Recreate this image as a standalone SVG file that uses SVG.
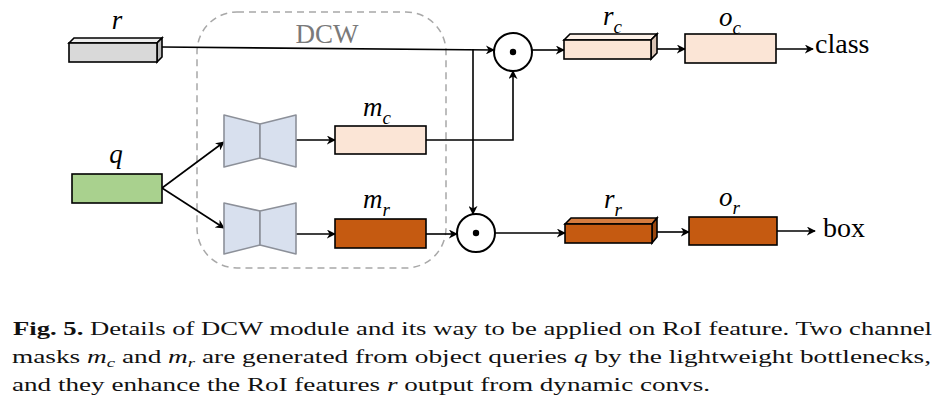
<svg xmlns="http://www.w3.org/2000/svg" width="945" height="408" viewBox="0 0 945 408">
<style>
.ln{fill:none;stroke:#000;stroke-width:1.6}
.bx{stroke:#000;stroke-width:1.6}
.bn{fill:#d8e0ee;stroke:#8c9099;stroke-width:1.6;stroke-linejoin:round}
.gray{fill:#d9d9d9}.grayT{fill:#ededed}.grayS{fill:#bdbdbd}
.pe{fill:#fbe5d6}.peT{fill:#fdf1e8}.peS{fill:#d8c2b3}
.org{fill:#c55a11}.orgT{fill:#d67c3f}.orgS{fill:#9a460c}
</style>
<defs>
<marker id="ar" viewBox="0 0 10 10" refX="9" refY="5" markerWidth="9" markerHeight="9" markerUnits="userSpaceOnUse" orient="auto">
<path d="M0,0 L10,5 L0,10 L3,5 z" fill="#000"/>
</marker>
</defs>

<g id="dcw">
<rect x="197" y="12" width="249" height="256" rx="40" fill="none" stroke="#a8a8a8" stroke-width="1.5" stroke-dasharray="7 5"/>
<text x="327" y="43" text-anchor="middle" font-family="'Liberation Serif', serif" font-size="27" fill="#7a7a7a">DCW</text>
</g>

<g id="connectors">
<path class="ln" d="M162,47 L494,50" marker-end="url(#ar)"/>
<path class="ln" d="M473,49 L473,214" marker-end="url(#ar)"/>
<path class="ln" d="M426,140 L513,140 L513,71" marker-end="url(#ar)"/>
<path class="ln" d="M162,188 L224,142" marker-end="url(#ar)"/>
<path class="ln" d="M162,188 L224,228" marker-end="url(#ar)"/>
<path class="ln" d="M296,140 L335,140" marker-end="url(#ar)"/>
<path class="ln" d="M296,234 L335,234" marker-end="url(#ar)"/>
<path class="ln" d="M426,234 L457,234" marker-end="url(#ar)"/>
<path class="ln" d="M532,50 L564,50" marker-end="url(#ar)"/>
<path class="ln" d="M657,49 L685,49" marker-end="url(#ar)"/>
<path class="ln" d="M776,49 L813,49" marker-end="url(#ar)"/>
<path class="ln" d="M495,233 L565,233" marker-end="url(#ar)"/>
<path class="ln" d="M657,232 L689,232" marker-end="url(#ar)"/>
<path class="ln" d="M777,231 L815,231" marker-end="url(#ar)"/>
</g>

<g font-family="'Liberation Serif', serif" font-style="italic" font-size="27" fill="#000">
<g id="r">
<polygon class="bx grayT" points="69,43 74,38 162,38 157,43"/>
<polygon class="bx grayS" points="157,43 162,38 162,57 157,62"/>
<rect class="bx gray" x="69" y="43" width="88" height="19"/>
<text x="117" y="29" text-anchor="middle">r</text>
</g>

<g id="q">
<rect class="bx" fill="#a9d18e" x="72" y="174" width="90" height="29"/>
<text x="116" y="163" text-anchor="middle">q</text>
</g>

<g id="bottleneck1">
<polygon class="bn" points="224,115 260,124 260,158 224,167"/>
<polygon class="bn" points="260,124 296,115 296,167 260,158"/>
</g>
<g id="bottleneck2">
<polygon class="bn" points="224,203 260,211 260,245 224,254"/>
<polygon class="bn" points="260,211 296,203 296,254 260,245"/>
</g>

<g id="mc">
<rect class="bx pe" x="335" y="126" width="91" height="28"/>
<text x="363" y="116">m<tspan font-size="19" dy="8">c</tspan></text>
</g>
<g id="mr">
<rect class="bx org" x="335" y="219" width="91" height="29"/>
<text x="363" y="208">m<tspan font-size="19" dy="8">r</tspan></text>
</g>

<g id="dot1">
<circle cx="513" cy="52" r="19" fill="#fff" stroke="#000" stroke-width="2"/>
<circle cx="513" cy="52" r="3.2" fill="#000"/>
</g>
<g id="dot2">
<circle cx="476" cy="233" r="19" fill="#fff" stroke="#000" stroke-width="2"/>
<circle cx="476" cy="233" r="3.2" fill="#000"/>
</g>

<g id="rc">
<polygon class="bx peT" points="564,40 570,34 657,34 651,40"/>
<polygon class="bx peS" points="651,40 657,34 657,53 651,59"/>
<rect class="bx pe" x="564" y="40" width="87" height="19"/>
<text x="603" y="25">r<tspan font-size="19" dy="8">c</tspan></text>
</g>
<g id="oc">
<rect class="bx pe" x="685" y="34" width="91" height="29"/>
<text x="719" y="26">o<tspan font-size="19" dy="8">c</tspan></text>
</g>
<g id="rr">
<polygon class="bx orgT" points="565,224 571,218 657,218 652,224"/>
<polygon class="bx orgS" points="652,224 657,218 657,237 652,243"/>
<rect class="bx org" x="565" y="224" width="87" height="19"/>
<text x="604" y="208">r<tspan font-size="19" dy="8">r</tspan></text>
</g>
<g id="or">
<rect class="bx org" x="689" y="217" width="88" height="28"/>
<text x="719" y="206">o<tspan font-size="19" dy="8">r</tspan></text>
</g>
</g>

<g font-family="'Liberation Serif', serif" font-size="28" fill="#000">
<g id="class">
<text x="815" y="53">class</text>
</g>
<g id="box">
<text x="823" y="237">box</text>
</g>
</g>

<g id="caption" font-family="'Liberation Serif', serif" font-size="19" fill="#111">
<text x="13" y="335" textLength="919" lengthAdjust="spacingAndGlyphs"><tspan font-weight="bold">Fig. 5.</tspan> Details of DCW module and its way to be applied on RoI feature. Two channel</text>
<text x="12" y="363" textLength="919" lengthAdjust="spacingAndGlyphs">masks <tspan font-style="italic">m</tspan><tspan font-style="italic" font-size="13" dy="4">c</tspan><tspan dy="-4"> and </tspan><tspan font-style="italic">m</tspan><tspan font-style="italic" font-size="13" dy="4">r</tspan><tspan dy="-4"> are generated from object queries </tspan><tspan font-style="italic">q</tspan> by the lightweight bottlenecks,</text>
<text x="12" y="391" textLength="698" lengthAdjust="spacingAndGlyphs">and they enhance the RoI features <tspan font-style="italic">r</tspan> output from dynamic convs.</text>
</g>
</svg>
